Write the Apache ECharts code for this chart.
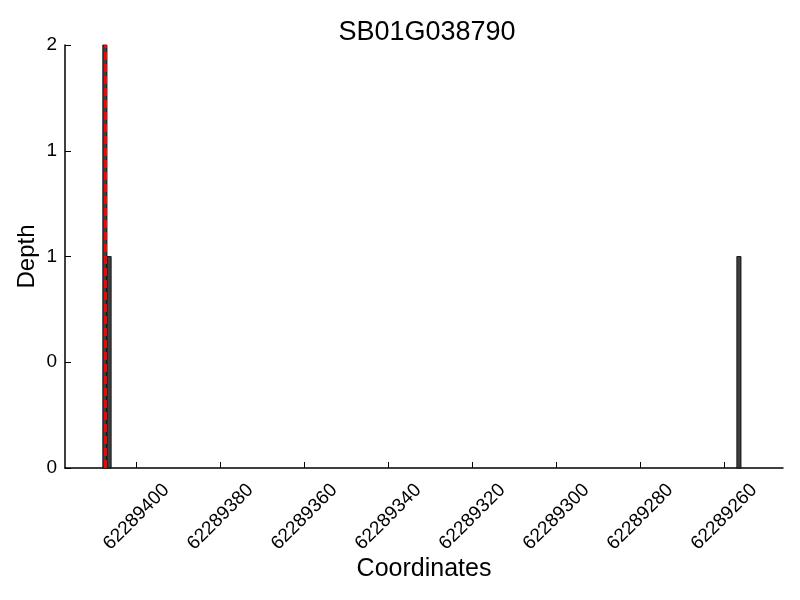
<!DOCTYPE html>
<html><head><meta charset="utf-8">
<script src="https://cdn.jsdelivr.net/npm/echarts@6/dist/echarts.min.js"></script>
<style>html,body{margin:0;padding:0;background:#fff}#c{width:800px;height:600px}</style>
</head><body><div id="c"></div>
<script>
const title = "SB01G038790";
const binStarts = [62289407, 62289406, 62289256];
const depths = [2, 1, 1];
const markerPos = 62289407.5;
const xTicks = [62289400, 62289380, 62289360, 62289340, 62289320, 62289300, 62289280, 62289260];
const yTicks = [0, 0.5, 1, 1.5, 2];

const chart = echarts.init(document.getElementById('c'));
const font = 'Liberation Sans, Arial, sans-serif';
chart.setOption({
  animation: false,
  backgroundColor: '#fff',
  title: { text: title, left: 422, top: 14, textAlign: 'center',
    textStyle: { fontFamily: font, fontSize: 27, fontWeight: 'normal', color: '#000' } },
  grid: { left: 65, right: 17, top: 45, bottom: 132 },
  xAxis: {
    type: 'value', inverse: true, min: 62289246, max: 62289417,
    name: 'Coordinates', nameLocation: 'middle', nameGap: 89, nameMoveOverlap: false,
    nameTextStyle: { fontFamily: font, fontSize: 25, color: '#000' },
    axisLine: { lineStyle: { color: '#000', width: 1.5 } },
    axisTick: { inside: true, length: 6, lineStyle: { color: '#000' }, customValues: xTicks },
    axisLabel: { rotate: 45, align: 'center', verticalAlign: 'middle', fontFamily: font, fontSize: 19,
      color: '#000', margin: 49, customValues: xTicks, formatter: v => String(v) },
    splitLine: { show: false }
  },
  yAxis: {
    type: 'value', min: 0, max: 2,
    name: 'Depth', nameLocation: 'middle', nameGap: 26, nameMoveOverlap: false,
    nameTextStyle: { fontFamily: font, fontSize: 24, color: '#000' },
    axisLine: { show: true, lineStyle: { color: '#000', width: 1.5 } },
    axisTick: { show: true, inside: true, length: 6, lineStyle: { color: '#000' }, customValues: yTicks },
    axisLabel: { fontFamily: font, fontSize: 19, color: '#000', margin: 8, customValues: yTicks,
      formatter: v => String(Math.floor(v)) },
    splitLine: { show: false }
  },
  series: [{
    type: 'custom',
    data: binStarts.map((p, i) => [p, depths[i]]),
    renderItem: (params, api) => {
      const a = api.coord([api.value(0), api.value(1)]);
      const b = api.coord([api.value(0) + 1, 0]);
      const x0 = Math.min(a[0], b[0]), x1 = Math.max(a[0], b[0]);
      return { type: 'rect', shape: { x: x0, y: a[1], width: x1 - x0, height: b[1] - a[1] },
        style: { fill: '#404040', stroke: '#000', lineWidth: 0.8 } };
    },
    markLine: {
      silent: true, symbol: 'none', label: { show: false },
      lineStyle: { color: '#ff0000', type: [8, 4], width: 3 },
      data: [{ xAxis: markerPos }]
    }
  }]
});
</script></body></html>
